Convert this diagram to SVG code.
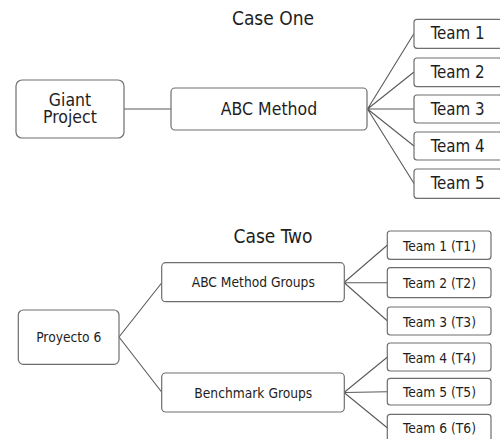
<svg xmlns="http://www.w3.org/2000/svg" width="500" height="439" viewBox="0 0 500 439">
  <style>
    text { font-family: "DejaVu Sans Condensed", "DejaVu Sans", sans-serif; font-stretch: condensed; fill: #1e1e1e; text-anchor: middle; }
    .box { fill: #ffffff; stroke: #6e6e6e; stroke-width: 1.2; }
    .wire { fill: none; stroke: #5a5a5a; stroke-width: 1.1; }
    .title { font-size: 19px; }
    .big { font-size: 17.5px; }
    .team { font-size: 16.8px; }
    .small { font-size: 13.7px; }
  </style>
  <rect width="500" height="439" fill="#ffffff"/>

  <!-- section titles -->
  <text class="title" x="273" y="25">Case One</text>
  <text class="title" x="273" y="243">Case Two</text>

  <!-- connectors -->
  <g id="connectors">
    <line class="wire" x1="124" y1="109" x2="171" y2="109"/>
    <path class="wire" d="M367.5 109 L414 33.5 M367.5 109 L414 72 M367.5 109 L414 109 M367.5 109 L414 146 M367.5 109 L414 183.5"/>
    <path class="wire" d="M119 337 L162 282.5 M119 337 L162 392.5"/>
    <path class="wire" d="M344 282.5 L387.5 245 M344 282.5 L387.5 282.7 M344 282.5 L387.5 321"/>
    <path class="wire" d="M344 392.5 L387.5 357 M344 392.5 L387.5 391.7 M344 392.5 L387.5 428"/>
  </g>

  <!-- case one -->
  <g id="giant-project">
    <rect class="box" x="16" y="80" width="108" height="58" rx="6"/>
    <text class="big" x="70" y="105.5">Giant</text>
    <text class="big" x="70" y="122.5">Project</text>
  </g>
  <g id="abc-method">
    <rect class="box" x="171" y="88" width="196" height="42" rx="4"/>
    <text class="big" x="269" y="115">ABC Method</text>
  </g>
  <g id="team-1">
    <rect class="box" x="414" y="19.3" width="88" height="29" rx="3"/>
    <text class="team" x="457.7" y="39.3">Team 1</text>
  </g>
  <g id="team-2">
    <rect class="box" x="414" y="58" width="88" height="28.7" rx="3"/>
    <text class="team" x="457.7" y="77.5">Team 2</text>
  </g>
  <g id="team-3">
    <rect class="box" x="414" y="95" width="88" height="28" rx="3"/>
    <text class="team" x="457.7" y="114.5">Team 3</text>
  </g>
  <g id="team-4">
    <rect class="box" x="414" y="132" width="88" height="28" rx="3"/>
    <text class="team" x="457.7" y="151.5">Team 4</text>
  </g>
  <g id="team-5">
    <rect class="box" x="414" y="169" width="88" height="29.3" rx="3"/>
    <text class="team" x="457.7" y="188.5">Team 5</text>
  </g>

  <!-- case two -->
  <g id="proyecto-6">
    <rect class="box" x="18.3" y="310" width="100.7" height="54.3" rx="5"/>
    <text class="small" x="68.8" y="342.3">Proyecto 6</text>
  </g>
  <g id="abc-method-groups">
    <rect class="box" x="161.7" y="262.7" width="182.6" height="39" rx="4"/>
    <text class="small" x="253.3" y="287.3">ABC Method Groups</text>
  </g>
  <g id="benchmark-groups">
    <rect class="box" x="161.7" y="373" width="182.6" height="39" rx="4"/>
    <text class="small" x="253.3" y="397.5">Benchmark Groups</text>
  </g>
  <g id="team-t1">
    <rect class="box" x="387.3" y="231" width="103.7" height="28.3" rx="3"/>
    <text class="small" x="439.5" y="251.2">Team 1 (T1)</text>
  </g>
  <g id="team-t2">
    <rect class="box" x="387.3" y="267.7" width="103.7" height="30" rx="3"/>
    <text class="small" x="439.5" y="288.3">Team 2 (T2)</text>
  </g>
  <g id="team-t3">
    <rect class="box" x="387.3" y="307" width="103.7" height="28" rx="3"/>
    <text class="small" x="439.5" y="326.5">Team 3 (T3)</text>
  </g>
  <g id="team-t4">
    <rect class="box" x="387.3" y="343" width="103.7" height="28" rx="3"/>
    <text class="small" x="439.5" y="362.5">Team 4 (T4)</text>
  </g>
  <g id="team-t5">
    <rect class="box" x="387.3" y="378.3" width="103.7" height="26.7" rx="3"/>
    <text class="small" x="439.5" y="397.2">Team 5 (T5)</text>
  </g>
  <g id="team-t6">
    <rect class="box" x="387.3" y="414.3" width="103.7" height="28" rx="3"/>
    <text class="small" x="439.5" y="433">Team 6 (T6)</text>
  </g>
</svg>
